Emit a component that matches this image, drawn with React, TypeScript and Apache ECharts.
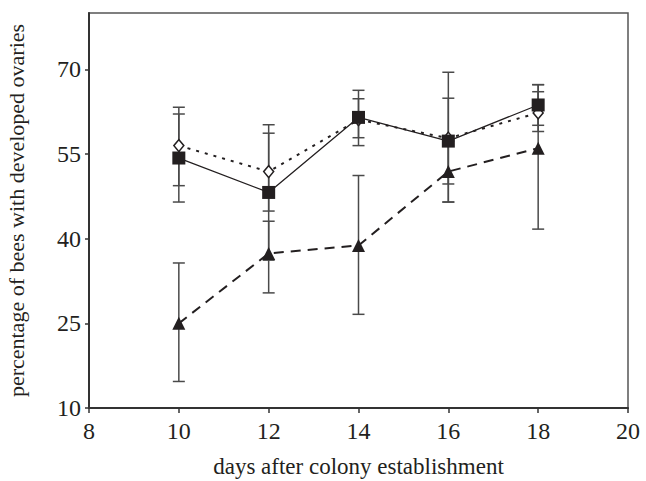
import React, { useEffect, useRef } from "react";
import * as echarts from "echarts";

const days = [10, 12, 14, 16, 18];
const squareMean = [54.3, 48.2, 61.5, 57.3, 63.7];
const squareLow = [46.5, 36.2, 56.5, 49.7, 60.1];
const squareHigh = [62.1, 60.2, 66.3, 64.9, 67.3];
const diamondMean = [56.5, 51.9, 61.1, 57.8, 62.3];
const diamondLow = [49.4, 44.9, 57.9, 46.5, 59.0];
const diamondHigh = [63.3, 58.7, 64.8, 69.5, 66.05];
const triangleMean = [25.0, 37.4, 38.8, 51.9, 56.05];
const triangleLow = [14.7, 30.4, 26.6, 46.5, 41.7];
const triangleHigh = [35.7, 43.1, 51.2, 57.3, 67.3];
const yTicks = [10, 25, 40, 55, 70];

const FONT = "'Liberation Serif', 'Times New Roman', serif";
const INK = "#231f20";

function errorSeries(low: number[], high: number[], name: string) {
  return {
    type: "custom",
    name,
    silent: true,
    z: 1,
    data: days.map((d, i) => [d, low[i], high[i]]),
    encode: { x: 0, y: [1, 2] },
    renderItem: (params: any, api: any) => {
      const x = api.value(0);
      const lo = api.coord([x, api.value(1)]);
      const hi = api.coord([x, api.value(2)]);
      const w = 6;
      const style = { stroke: "#4a4a4a", lineWidth: 1.5 };
      return {
        type: "group",
        children: [
          { type: "line", shape: { x1: lo[0], y1: lo[1], x2: hi[0], y2: hi[1] }, style },
          { type: "line", shape: { x1: lo[0] - w, y1: lo[1], x2: lo[0] + w, y2: lo[1] }, style },
          { type: "line", shape: { x1: hi[0] - w, y1: hi[1], x2: hi[0] + w, y2: hi[1] }, style },
        ],
      };
    },
  };
}

export default function App() {
  const ref = useRef<HTMLDivElement>(null);
  useEffect(() => {
    if (!ref.current) return;
    const chart = echarts.init(ref.current, undefined, { renderer: "svg" });
    chart.setOption({
      animation: false,
      backgroundColor: "#ffffff",
      grid: {
        left: 89,
        right: 18,
        top: 13,
        bottom: 73,
        containLabel: false,
        outerBoundsMode: "none",
        show: true,
        borderColor: "#555555",
        borderWidth: 1.5,
        backgroundColor: "transparent",
      },
      xAxis: {
        type: "value",
        min: 8,
        max: 20,
        interval: 2,
        name: "days after colony establishment",
        nameLocation: "middle",
        nameGap: 47,
        nameTextStyle: { fontFamily: FONT, fontSize: 23, color: INK },
        axisLine: { show: true, onZero: false, lineStyle: { color: "#333333", width: 2 } },
        axisTick: { show: true, inside: false, length: 5, lineStyle: { color: "#333333", width: 1.5 } },
        axisLabel: { fontFamily: FONT, fontSize: 24, color: INK, margin: 11 },
        splitLine: { show: false },
      },
      yAxis: {
        type: "value",
        min: 10,
        max: 80,
        name: "percentage of bees with developed ovaries",
        nameLocation: "middle",
        nameGap: 62,
        nameTextStyle: { fontFamily: FONT, fontSize: 22, color: INK },
        axisLine: { show: true, onZero: false, lineStyle: { color: "#333333", width: 2 } },
        axisTick: { show: true, inside: false, length: 4, customValues: yTicks, lineStyle: { color: "#333333", width: 1.5 } },
        axisLabel: { fontFamily: FONT, fontSize: 24, color: INK, margin: 8, customValues: yTicks },
        splitLine: { show: false },
      },
      series: [
        errorSeries(triangleLow, triangleHigh, "err-tri"),
        errorSeries(diamondLow, diamondHigh, "err-dia"),
        errorSeries(squareLow, squareHigh, "err-sq"),
        {
          type: "line",
          name: "triangle",
          z: 2,
          data: days.map((d, i) => [d, triangleMean[i]]),
          symbol: "triangle",
          symbolSize: [13, 13],
          itemStyle: { color: INK },
          lineStyle: { color: INK, width: 2, type: [10, 7] },
        },
        {
          type: "line",
          name: "diamond",
          z: 3,
          data: days.map((d, i) => [d, diamondMean[i]]),
          symbol: "diamond",
          symbolSize: [10, 12],
          itemStyle: { color: "#ffffff", borderColor: INK, borderWidth: 1.5 },
          lineStyle: { color: INK, width: 2, type: [3, 6] },
        },
        {
          type: "line",
          name: "square",
          z: 4,
          data: days.map((d, i) => [d, squareMean[i]]),
          symbol: "rect",
          symbolSize: 13,
          itemStyle: { color: INK },
          lineStyle: { color: INK, width: 1.3, type: "solid" },
        },
      ],
    });
    return () => chart.dispose();
  }, []);
  return (
    <div
      ref={ref}
      style={{ position: "fixed", left: 0, top: 0, width: 646, height: 481, background: "#fff" }}
    />
  );
}
